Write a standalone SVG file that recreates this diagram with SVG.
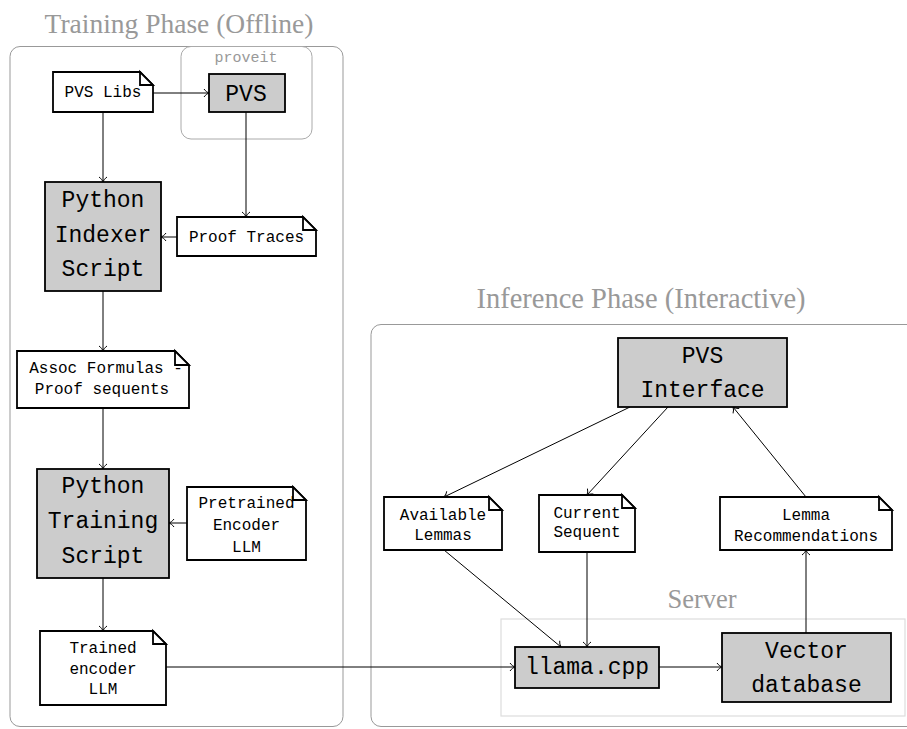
<svg xmlns="http://www.w3.org/2000/svg" width="907" height="729" viewBox="0 0 907 729">
<defs>
<style>
.title{font-family:"Liberation Serif","Times New Roman",serif;fill:#999;text-anchor:middle}
.panel{fill:none;stroke:#999;stroke-width:1}
.proc{fill:#ccc;stroke:#000;stroke-width:1.8}
.doc{fill:#fff;stroke:#000;stroke-width:1.8}
.fold{fill:#fff;stroke:#000;stroke-width:1.8;stroke-linejoin:miter}
.big{font-family:"Liberation Mono","Courier New",monospace;font-size:23px;fill:#000;text-anchor:middle}
.sm{font-family:"Liberation Mono","Courier New",monospace;font-size:16px;fill:#000;text-anchor:middle}
.edge{fill:none;stroke:#000;stroke-width:1;marker-end:url(#arr)}
</style>
<marker id="arr" markerUnits="userSpaceOnUse" viewBox="-7 -5 8 10" refX="0" refY="0" markerWidth="8" markerHeight="10" orient="auto">
<path d="M-5,-4 C-3.5,-1.8 -1.2,-0.4 0,0 C-1.2,0.4 -3.5,1.8 -5,4" fill="none" stroke="#000" stroke-width="1"/>
</marker>
</defs>

<g id="training-phase">
<text class="title" x="179" y="33" font-size="27.5">Training Phase (Offline)</text>
<rect class="panel" x="10" y="46.5" width="333" height="680" rx="10"/>
</g>
<g id="proveit">
<rect x="181" y="46.5" width="131" height="92.5" rx="10" fill="none" stroke="#aaa" stroke-width="1"/>
<text x="246" y="62" font-family="'Liberation Mono','Courier New',monospace" font-size="15" fill="#999" text-anchor="middle">proveit</text>
</g>
<g id="inference-phase">
<text class="title" x="641" y="308" font-size="28.5">Inference Phase (Interactive)</text>
<rect class="panel" x="371" y="324.5" width="600" height="402" rx="10"/>
</g>
<g id="server">
<rect x="501" y="619" width="404" height="97" fill="none" stroke="#ddd" stroke-width="1.2"/>
<text class="title" x="702" y="608" font-size="26.5">Server</text>
</g>

<g id="connectors">
<line class="edge" x1="153" y1="93" x2="209" y2="93"/>
<line class="edge" x1="103" y1="112" x2="103" y2="182"/>
<line class="edge" x1="246" y1="112" x2="246" y2="217"/>
<line class="edge" x1="177" y1="237" x2="161" y2="237"/>
<line class="edge" x1="103" y1="291" x2="103" y2="351"/>
<line class="edge" x1="103" y1="408" x2="103" y2="469"/>
<line class="edge" x1="187" y1="523" x2="169" y2="523"/>
<line class="edge" x1="103" y1="578" x2="103" y2="631"/>
<line class="edge" x1="166" y1="667" x2="515" y2="667"/>
<line class="edge" x1="659" y1="667" x2="722" y2="667"/>
<line class="edge" x1="806" y1="633" x2="806" y2="550"/>
<line class="edge" x1="806" y1="497" x2="733" y2="407"/>
<line class="edge" x1="630" y1="407" x2="444" y2="497"/>
<line class="edge" x1="668" y1="407" x2="587" y2="495"/>
<line class="edge" x1="444" y1="550" x2="561" y2="647"/>
<line class="edge" x1="587" y1="552" x2="587" y2="647"/>
</g>

<g id="pvs-libs">
<path class="doc" d="M53,72 H140 L153,85 V112 H53 Z"/>
<path class="fold" d="M140,72 V85 H153 Z"/>
<text class="sm" x="103" y="97">PVS Libs</text>
</g>
<g id="pvs">
<rect class="proc" x="209" y="74" width="76" height="38"/>
<text class="big" x="246" y="101">PVS</text>
</g>
<g id="proof-traces">
<path class="doc" d="M177,217 H303 L316,230 V256 H177 Z"/>
<path class="fold" d="M303,217 V230 H316 Z"/>
<text class="sm" x="246.5" y="242">Proof Traces</text>
</g>
<g id="python-indexer-script">
<rect class="proc" x="45" y="182" width="116" height="109"/>
<text class="big" x="103" y="207">Python</text>
<text class="big" x="103" y="242">Indexer</text>
<text class="big" x="103" y="276">Script</text>
</g>
<g id="assoc-formulas">
<path class="doc" d="M17,351 H175 L189,365 V408 H17 Z"/>
<text class="sm" x="106" y="373">Assoc Formulas -</text>
<path class="fold" d="M175,351 V365 H189 Z"/>
<text class="sm" x="102" y="394">Proof sequents</text>
</g>
<g id="python-training-script">
<rect class="proc" x="37" y="469" width="132" height="109"/>
<text class="big" x="103" y="493">Python</text>
<text class="big" x="103" y="528">Training</text>
<text class="big" x="103" y="563">Script</text>
</g>
<g id="pretrained-encoder">
<path class="doc" d="M187,487 H293 L306,500 V560 H187 Z"/>
<text class="sm" x="246.5" y="508">Pretrained</text>
<path class="fold" d="M293,487 V500 H306 Z"/>
<text class="sm" x="246.5" y="530">Encoder</text>
<text class="sm" x="246.5" y="552">LLM</text>
</g>
<g id="trained-encoder">
<path class="doc" d="M40,631 H153 L166,644 V705 H40 Z"/>
<path class="fold" d="M153,631 V644 H166 Z"/>
<text class="sm" x="103" y="653">Trained</text>
<text class="sm" x="103" y="674">encoder</text>
<text class="sm" x="103" y="694">LLM</text>
</g>

<g id="pvs-interface">
<rect class="proc" x="618" y="338" width="169" height="69"/>
<text class="big" x="702.5" y="363">PVS</text>
<text class="big" x="702.5" y="397">Interface</text>
</g>
<g id="available-lemmas">
<path class="doc" d="M384,497 H489 L502,510 V550 H384 Z"/>
<text class="sm" x="443" y="520">Available</text>
<path class="fold" d="M489,497 V510 H502 Z"/>
<text class="sm" x="443" y="540">Lemmas</text>
</g>
<g id="current-sequent">
<path class="doc" d="M539,495 H622 L635,508 V552 H539 Z"/>
<text class="sm" x="587" y="518">Current</text>
<path class="fold" d="M622,495 V508 H635 Z"/>
<text class="sm" x="587" y="537">Sequent</text>
</g>
<g id="lemma-recommendations">
<path class="doc" d="M720,497 H879 L892,510 V550 H720 Z"/>
<path class="fold" d="M879,497 V510 H892 Z"/>
<text class="sm" x="806" y="520">Lemma</text>
<text class="sm" x="806" y="541">Recommendations</text>
</g>
<g id="llama-cpp">
<rect class="proc" x="515" y="647" width="144" height="41"/>
<text class="big" x="587" y="674">llama.cpp</text>
</g>
<g id="vector-database">
<rect class="proc" x="722" y="633" width="169" height="69"/>
<text class="big" x="806.5" y="658">Vector</text>
<text class="big" x="806.5" y="692">database</text>
</g>
</svg>
